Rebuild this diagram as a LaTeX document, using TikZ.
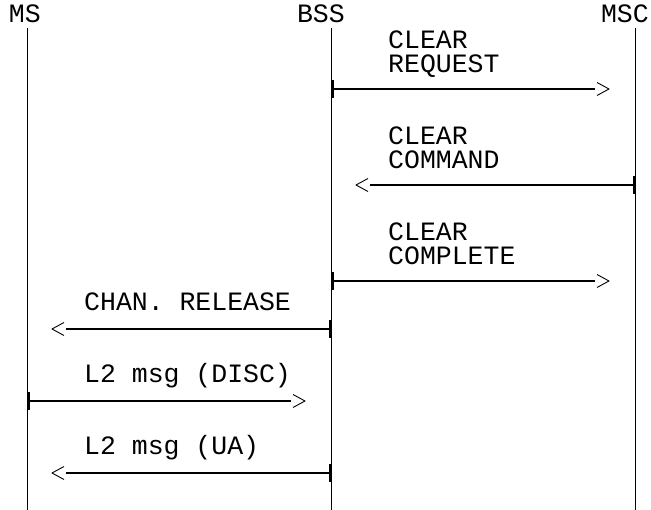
\documentclass[tikz,border=0pt]{standalone}
\usepackage{fontspec}
\setmonofont{Liberation Mono}
\usetikzlibrary{arrows.meta,decorations.markings}
\begin{document}
\begin{tikzpicture}[x=1pt,y=-1pt,line join=round,
    font=\ttfamily\fontsize{26.5}{24}\selectfont,
    head/.style={anchor=base east,inner sep=0pt},
    lbl/.style={anchor=base west,inner sep=0pt,align=left},
    msg/.style={line width=2pt,shorten >=14pt,
      {Bar[width=18pt,line width=2.5pt]}-,
      postaction={decorate},
      decoration={markings,mark=at position 1 with
        {\draw[-,line width=0.9pt,shorten >=0pt,shorten <=0pt] (-12pt,6.5pt)--(0pt,0pt)--(-12pt,-6.5pt);}}}]
    \useasboundingbox (0,0) rectangle (651,510);
    % lifelines
    \def\ms{27} \def\bss{331} \def\msc{635}
    \node[head] (ms label) at (\ms+14,23) {MS};
    \node[head] (bss label) at (\bss+14,23) {BSS};
    \node[head] (msc label) at (\msc+14,23) {MSC};
    \foreach \n/\x in {ms/\ms,bss/\bss,msc/\msc}{
        \coordinate (\n top) at (\x,28);
        \coordinate (\n bot) at (\x,510);
        \draw[line width=1pt] (\n top)--(\n bot);
    }
    % messages
    \coordinate (req s) at (\bss,89);  \coordinate (req e) at (609,89);
    \coordinate (cmd s) at (\msc,185); \coordinate (cmd e) at (356,185);
    \coordinate (cmp s) at (\bss,281); \coordinate (cmp e) at (609,281);
    \coordinate (rel s) at (\bss,329); \coordinate (rel e) at (52,329);
    \coordinate (disc s) at (\ms,401); \coordinate (disc e) at (305,401);
    \coordinate (ua s) at (\bss,473);  \coordinate (ua e) at (52,473);
    \draw[msg] (req s)--(req e);
    \draw[msg] (cmd s)--(cmd e);
    \draw[msg] (cmp s)--(cmp e);
    \draw[msg] (rel s)--(rel e);
    \draw[msg] (disc s)--(disc e);
    \draw[msg] (ua s)--(ua e);
    \node[lbl] (req label) at (388,73) {CLEAR\\REQUEST};
    \node[lbl] (cmd label) at (388,169) {CLEAR\\COMMAND};
    \node[lbl] (cmp label) at (388,265) {CLEAR\\COMPLETE};
    \node[lbl] (rel label) at (84,311) {CHAN. RELEASE};
    \node[lbl] (disc label) at (84,383) {L2 msg (DISC)};
    \node[lbl] (ua label) at (84,455) {L2 msg (UA)};
\end{tikzpicture}
\end{document}
